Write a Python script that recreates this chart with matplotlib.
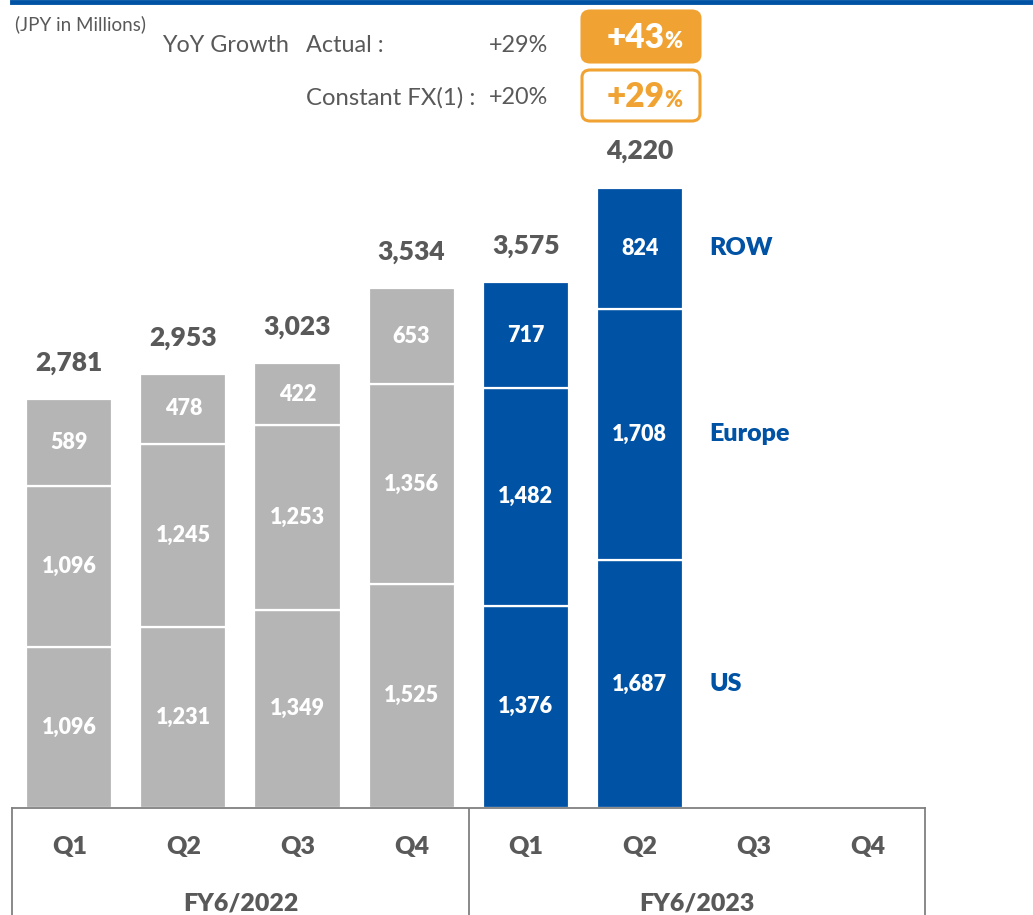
import matplotlib
matplotlib.use("Agg")
import matplotlib.pyplot as plt
from matplotlib.patches import FancyBboxPatch
from matplotlib.lines import Line2D
import numpy as np

# ---- data -------------------------------------------------------------
quarters = ["Q1", "Q2", "Q3", "Q4", "Q1", "Q2", "Q3", "Q4"]
fiscal_years = ["FY6/2022", "FY6/2023"]
us = [1096, 1231, 1349, 1525, 1376, 1687]
europe = [1096, 1245, 1253, 1356, 1482, 1708]
row = [589, 478, 422, 653, 717, 824]
totals = [2781, 2953, 3023, 3534, 3575, 4220]
segment_names = ["US", "Europe", "ROW"]

growth_actual_h1 = "+29%"
growth_constfx_h1 = "+20%"
growth_actual_q2 = "+43"
growth_constfx_q2 = "+29"

# ---- style ------------------------------------------------------------
GRAY = "#B5B5B5"
BLUE = "#0052A4"
ORANGE = "#F0A332"
TEXT = "#595959"
FONT = "Lato"
BOLD = "heavy"
plt.rcParams["font.family"] = [FONT, "DejaVu Sans"]

W, H = 1033, 915
fig = plt.figure(figsize=(W / 100, H / 100), dpi=100)


def fx(x):
    return x / W


def fy(y):
    return 1 - y / H


# main plotting area: x from 12.3px to 925px, baseline at 808px
ax_left, ax_right = 12.3, 925.0
base_y = 808.0
px_per_unit = (808.0 - 187.5) / 4220.0
ymax = base_y / px_per_unit
ax = fig.add_axes([fx(ax_left), fy(base_y), fx(ax_right - ax_left), base_y / H])
ax.set_xlim(-0.5, 7.5)
ax.set_ylim(0, ymax)
ax.axis("off")

x = np.arange(len(totals))
colors = [GRAY] * 4 + [BLUE] * 2
bar_w = 0.755
bottom = np.zeros(len(totals))
for seg in (us, europe, row):
    vals = np.array(seg, dtype=float)
    ax.bar(x, vals, width=bar_w, bottom=bottom, color=colors,
           edgecolor="white", linewidth=1.6, zorder=2)
    for xi, b, v in zip(x, bottom, vals):
        ax.text(xi, b + v / 2, f"{int(v):,}", ha="center", va="center",
                color="white", fontsize=15.5, fontweight=BOLD, zorder=3)
    bottom += vals

for xi, t in zip(x, totals):
    ax.annotate(f"{t:,}", (xi, t), xytext=(0, 26), textcoords="offset points",
                ha="center", va="center", color=TEXT, fontsize=19,
                fontweight=BOLD)

# segment names next to the latest bar
last = len(totals) - 1
seg_bottom = 0
for name, seg in zip(segment_names, (us, europe, row)):
    ax.text(5.61, seg_bottom + seg[last] / 2, name, ha="left", va="center",
            color=BLUE, fontsize=18, fontweight=BOLD)
    seg_bottom += seg[last]

# ---- category box below the bars ---------------------------------------
axb = fig.add_axes([fx(ax_left), 0, fx(ax_right - ax_left), fy(base_y)])
axb.set_xlim(-0.5, 7.5)
axb.set_ylim(0, 1)
axb.set_xticks([])
axb.set_yticks([])
for side in ("left", "right", "top"):
    axb.spines[side].set_color("#808080")
    axb.spines[side].set_linewidth(1.3)
axb.spines["bottom"].set_visible(False)
axb.axvline(3.5, color="#808080", lw=1.3)
axb.patch.set_alpha(0)
q_y = (915 - 847) / (915 - 808)
fy_y = (915 - 903) / (915 - 808)
for i, q in enumerate(quarters):
    axb.text(i, q_y, q, ha="center", va="center", color=TEXT,
             fontsize=18, fontweight=BOLD)
for i, lab in enumerate(fiscal_years):
    axb.text(1.5 + 4 * i, fy_y, lab, ha="center", va="center", color=TEXT,
             fontsize=18, fontweight=BOLD)

# ---- header -----------------------------------------------------------
fig.add_artist(Line2D([fx(12), 1], [fy(1.5), fy(1.5)], color=BLUE, lw=3.5))

fig.text(fx(15), fy(24), "(JPY in Millions)", ha="left", va="center",
         color=TEXT, fontsize=13.5)
fig.text(fx(162), fy(45), "YoY Growth", ha="left", va="center",
         color=TEXT, fontsize=16.8)
fig.text(fx(306), fy(45), "Actual :", ha="left", va="center",
         color=TEXT, fontsize=16.8)
fig.text(fx(548), fy(45), growth_actual_h1, ha="right", va="center",
         color=TEXT, fontsize=16.8)
fig.text(fx(306), fy(98), "Constant FX(1) :", ha="left", va="center",
         color=TEXT, fontsize=17.2)
fig.text(fx(548), fy(98), growth_constfx_h1, ha="right", va="center",
         color=TEXT, fontsize=16.8)

# highlighted growth boxes
box_x0, box_x1 = 582, 700
for (y0, y1), filled in (((11, 62), True), ((70, 121), False)):
    fig.add_artist(FancyBboxPatch(
        (fx(box_x0), fy(y1)), fx(box_x1 - box_x0), (y1 - y0) / H,
        boxstyle="round,pad=0,rounding_size=0.008",
        facecolor=ORANGE if filled else "white",
        edgecolor=ORANGE, linewidth=2.2, transform=fig.transFigure))

for val, base, col in ((growth_actual_q2, 48, "white"),
                       (growth_constfx_q2, 107, ORANGE)):
    fig.text(fx(665), fy(base), val, ha="right", va="baseline", color=col,
             fontsize=24, fontweight=BOLD)
    fig.text(fx(664), fy(base), "%", ha="left", va="baseline", color=col,
             fontsize=15.5, fontweight=BOLD)

fig.savefig("out.png", dpi=100)
